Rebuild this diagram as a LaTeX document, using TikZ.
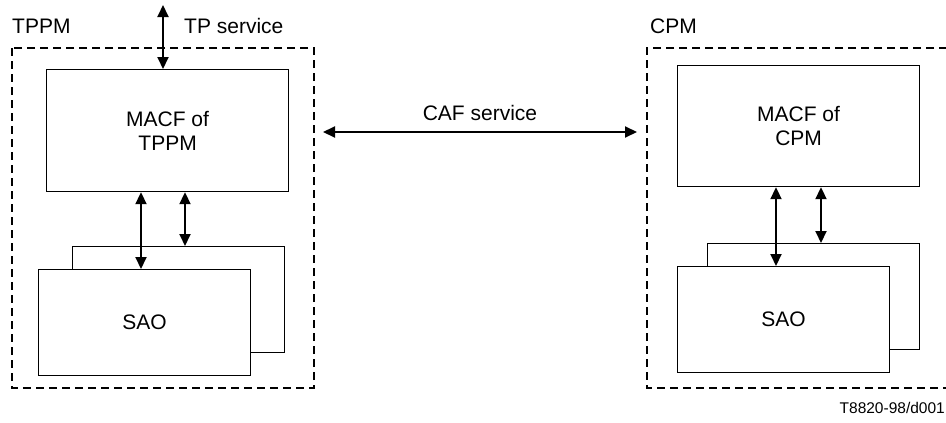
\documentclass[tikz,border=0pt]{standalone}
\usepackage{fontspec}
\setmainfont{Liberation Sans}
\usetikzlibrary{arrows.meta}
\begin{document}
\begin{tikzpicture}[x=1pt,y=-1pt,
  dbox/.style={draw,dashed,line width=1.8pt,dash pattern=on 8pt off 5pt},
  blk/.style={draw,line width=1.2pt,fill=white,inner sep=0pt,anchor=north west,
     font=\fontsize{21}{24}\selectfont,align=center},
  arr/.style={line width=2pt,{Triangle[length=12pt,width=11pt]}-{Triangle[length=12pt,width=11pt]}},
  lbl/.style={font=\fontsize{21}{24}\selectfont,inner sep=0pt}]
\useasboundingbox (0,0) rectangle (946,423);
\fill[white] (0,0) rectangle (946,423);
% outer dashed boxes
\draw[dbox] (12,48) rectangle (314,388);
\draw[dbox] (960,48) -- (647,48) -- (647,388) -- (960,388);
% left module
\node[blk,minimum width=242pt,minimum height=122pt] (macfL) at (46,69) {MACF of\\TPPM};
\node[blk,minimum width=212pt,minimum height=106pt] (saoLb) at (72,246) {};
\node[blk,minimum width=212pt,minimum height=106pt] (saoLf) at (38,269) {SAO};
% right module
\node[blk,minimum width=242pt,minimum height=121pt] (macfR) at (677,65) {MACF of\\CPM};
\node[blk,minimum width=212pt,minimum height=106pt] (saoRb) at (707,243) {};
\node[blk,minimum width=212pt,minimum height=106pt] (saoRf) at (677,266) {SAO};
% labels
\node[lbl,anchor=base west] (tppm) at (12,34) {TPPM};
\node[lbl,anchor=base west] (tps) at (184,34) {TP service};
\node[lbl,anchor=base west] (cpm) at (650,34) {CPM};
\node[lbl,anchor=base] (caf) at (480,120) {CAF service};
\node[inner sep=0pt,anchor=base east,font=\fontsize{15.5}{18}\selectfont] (ref) at (945,413) {T8820-98/d001};
% helper coordinates
\coordinate (top) at (163,5);
\coordinate (xl1) at (141,0);
\coordinate (xl2) at (185,0);
\coordinate (xr1) at (776,0);
\coordinate (xr2) at (821,0);
\coordinate (cafL) at (323,132);
\coordinate (cafR) at (637,132);
% arrows
\draw[arr] (top) -- (macfL.north -| top);
\draw[arr] (macfL.south -| xl1) -- (saoLf.north -| xl1);
\draw[arr] (macfL.south -| xl2) -- (saoLb.north -| xl2);
\draw[arr] (macfR.south -| xr1) -- (saoRf.north -| xr1);
\draw[arr] (macfR.south -| xr2) -- (saoRb.north -| xr2);
\draw[arr] (cafL) -- (cafR);
\end{tikzpicture}
\end{document}
